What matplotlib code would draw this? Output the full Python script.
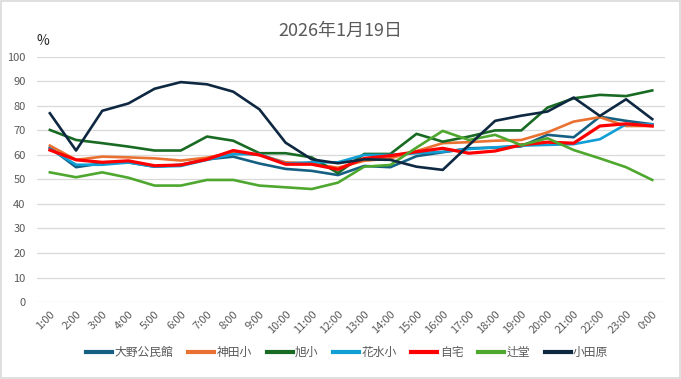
import numpy as np
import matplotlib.pyplot as plt
from matplotlib.patches import Rectangle

plt.rcParams['font.family'] = ['Noto Sans CJK JP', 'DejaVu Sans']

hours = ['1:00', '2:00', '3:00', '4:00', '5:00', '6:00', '7:00', '8:00', '9:00', '10:00',
         '11:00', '12:00', '13:00', '14:00', '15:00', '16:00', '17:00', '18:00', '19:00',
         '20:00', '21:00', '22:00', '23:00', '0:00']

ono = [63, 55, 56.6, 57, 55.2, 56, 58.2, 59.3, 56.5, 54.3, 53.5, 51.8,
       55.5, 55, 59.5, 61.1, 62.7, 63, 63.5, 68.2, 67.2, 75.6, 73.9, 72.5]
kanda = [63.8, 58, 59.3, 59, 58.6, 57.7, 58.9, 61, 60, 57, 56.5, 54.8,
         57.6, 58.6, 61.6, 64.8, 65.2, 65.8, 66.1, 69.2, 73.6, 75.4, 71.8, 71.8]
asahi = [70.2, 66.1, 64.8, 63.4, 61.8, 61.8, 67.5, 65.8, 60.7, 60.7, 59, 52.6,
         60.4, 60.4, 68.6, 65.4, 67.5, 70, 70, 79.3, 83.1, 84.5, 84, 86.3]
hanamizu = [62.5, 56, 56, 56.9, 55.2, 55.5, 58, 60.3, 60.3, 56.5, 57, 57,
            60, 60, 60.7, 61.3, 62.4, 63.1, 63.8, 64.1, 64.4, 66.4, 72.5, 72.5]
jitaku = [62, 58, 57, 57.6, 55.6, 55.9, 58.2, 61.8, 60, 56.2, 56.2, 54.1,
          58.6, 59.7, 61.3, 62.7, 60.7, 61.6, 64.1, 65.2, 64.8, 71.8, 72.7, 71.8]
tsujido = [52.9, 50.9, 52.9, 50.7, 47.5, 47.5, 49.8, 49.8, 47.5, 46.8, 46.1, 48.7,
           55.2, 55.9, 63, 69.8, 66.1, 68.2, 64, 66.8, 62, 58.6, 55, 49.8]
odawara = [77, 61.8, 78, 81, 87, 89.7, 88.8, 85.8, 78.6, 65, 58.2, 56.6,
           58.2, 58, 55.2, 53.9, 64, 73.9, 76, 77.7, 83.4, 75.9, 82.7, 74.6]

names = ['大野公民館', '神田小', '旭小', '花水小', '自宅', '辻堂', '小田原']
series = [ono, kanda, asahi, hanamizu, jitaku, tsujido, odawara]
colors = ['#156082', '#E97132', '#196B24', '#0F9ED5', '#FF0000', '#4EA72E', '#0E2841']
widths = [1.9, 1.9, 1.9, 1.9, 2.3, 1.9, 1.9]

fig = plt.figure(figsize=(6.81, 3.79), dpi=100)
ax = fig.add_axes([0.054, 0.203, 0.923, 0.647])

x = np.arange(len(hours))
for vals, name, c, lw in zip(series, names, colors, widths):
    ax.plot(x, vals, color=c, lw=lw, label=name, solid_joinstyle='round')

ax.set_xlim(-0.5, len(hours) - 0.5)
ax.set_ylim(0, 100)
ax.set_yticks(range(0, 101, 10))
ax.set_xticks(x)
ax.set_xticklabels(hours, rotation=45, ha='right', rotation_mode='anchor')
ax.tick_params(axis='both', length=0, labelsize=8, labelcolor='#595959')
ax.tick_params(axis='x', pad=5)
ax.tick_params(axis='y', pad=8)
ax.grid(axis='y', color='#D9D9D9', lw=0.9)
ax.set_axisbelow(True)
for s in ax.spines.values():
    s.set_visible(False)

fig.text(0.053, 0.88, '%', fontsize=10, color='#262626')
fig.text(0.5, 0.918, '2026年1月19日', fontsize=13, color='#595959', ha='center', va='center')

leg = fig.legend(loc='center', bbox_to_anchor=(0.51, 0.07), ncol=7, frameon=False,
                 fontsize=8.5, handlelength=2.2, handletextpad=0.2, columnspacing=1.25)
for t in leg.get_texts():
    t.set_color('#595959')
for h in leg.get_lines():
    h.set_linewidth(3)

fig.patches.append(Rectangle((0.001, 0.002), 0.997, 0.995, transform=fig.transFigure,
                             fill=False, edgecolor='#D9D9D9', lw=1.2))

fig.savefig('out.png', dpi=100)
